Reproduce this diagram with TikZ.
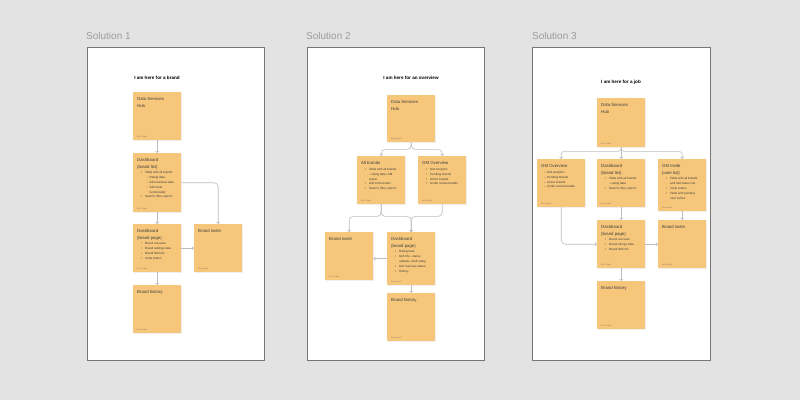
\documentclass[tikz,border=0pt]{standalone}
\usepackage{fontspec}
\setmainfont{Liberation Sans}
\usetikzlibrary{arrows.meta,shadows}
\definecolor{bgc}{HTML}{E3E3E3}
\definecolor{panelline}{HTML}{767676}
\definecolor{notec}{HTML}{F6C77B}
\definecolor{connc}{HTML}{BDBDBD}
\definecolor{soltxt}{HTML}{9B9B9B}
\definecolor{notetxt}{HTML}{3C3C3C}
\definecolor{footc}{HTML}{8C7A5C}
\tikzset{
  panel/.style={draw=panelline, fill=white, line width=0.8pt},
  notebox/.style={fill=notec, inner xsep=4pt, inner ysep=3pt, anchor=north west, text=notetxt,
    drop shadow={opacity=0.12, shadow xshift=0.3pt, shadow yshift=-0.6pt}},
  conn/.style={draw=connc, line width=0.6pt, rounded corners=4pt, -{Straight Barb[length=1.6pt,width=3.2pt]}},
  soltitle/.style={anchor=west, text=soltxt, font=\fontsize{10}{12}\selectfont, inner sep=0},
  head/.style={font=\fontsize{4.6}{5}\selectfont\bfseries, inner sep=0, text=black},
}
\newcommand\ttl[1]{{\fontsize{4.3}{6.5}\selectfont #1\par}\vspace{0.8pt}}
\newcommand\bi[1]{{\fontsize{3}{4.8}\selectfont\hspace*{4pt}\makebox[4pt][l]{\textbullet}#1\par}}
\newcommand\di[1]{{\fontsize{3}{4.8}\selectfont\hspace*{3pt}\makebox[3pt][l]{–}#1\par}}
\newcommand\sbi[1]{{\fontsize{3}{4.8}\selectfont\hspace*{10pt}\makebox[2.5pt][l]{◦}#1\par}}
\newcommand\cti[2][8pt]{{\fontsize{3}{4.8}\selectfont\hspace*{#1}#2\par}}
\newcommand\sticky[5]{\node[notebox] (#1) at (#2,#3) {\parbox[c][\dimexpr #4pt-6pt\relax][t]{40pt}{\vspace*{2.5pt}#5\par\vfill{\fontsize{2}{2.4}\selectfont\color{footc}Ben Powell\par}}};}
\begin{document}
\begin{tikzpicture}[x=1pt,y=-1pt]
\useasboundingbox (0,0) rectangle (800,400);
\fill[bgc] (0,0) rectangle (800,400);
% panels
\path[panel] (87,47) rectangle (264,360);
\path[panel] (307,47) rectangle (484,360);
\path[panel] (532.5,47) rectangle (710,360);
\node[soltitle] (s1) at (86,35.5) {Solution 1};
\node[soltitle] (s2) at (306,35.5) {Solution 2};
\node[soltitle] (s3) at (532,35.5) {Solution 3};
% ---------- Panel 1
\node[head] (h1) at (157,78) {I am here for a brand};
\sticky{hub1}{133}{92}{48}{\ttl{Data Services\\Hub}}
\sticky{dbl1}{133}{153}{59}{\ttl{Dashboard\\(brand list)}
  \bi{Table with all brands}\sbi{Rating data}\sbi{GM overview data}\sbi{GM invite}\cti[12.5pt]{functionality}\bi{Search, filter, export}}
\sticky{dbp1}{133}{224}{48}{\ttl{Dashboard\\(brand page)}
  \bi{Brand overview}\bi{Brand settings data}\bi{Brand GM info}\bi{Invite button}}
\sticky{inv1}{194}{224}{48}{\ttl{Brand invite}}
\sticky{his1}{133}{285}{48}{\ttl{Brand history}}
\draw[conn] (hub1.south) -- (dbl1.north);
\draw[conn] (dbl1.east) -| (inv1.north);
\draw[conn] (dbl1.south) -- (dbp1.north);
\draw[conn] (dbp1.east) -- (inv1.west);
\draw[conn] (dbp1.south) -- (his1.north);
% ---------- Panel 2
\node[head] (h2) at (411,78) {I am here for an overview};
\sticky{hub2}{387}{95}{47}{\ttl{Data Services\\Hub}}
\sticky{all2}{357}{156}{48}{\ttl{All brands}
  \bi{Table with all brands}\cti{– rating data, GM}\cti{status}\bi{GM invite button}\bi{Search, filter, export}}
\sticky{gmo2}{418}{156}{48}{\ttl{GM Overview}
  \bi{GM analytics}\bi{Pending brands}\bi{Active brands}\bi{Under review brands}}
\sticky{inv2}{325}{232}{48}{\ttl{Brand invite}}
\sticky{dbp2}{387}{232}{53}{\ttl{Dashboard\\(brand page)}
  \bi{Rating data}\bi{GM info - status,}\cti{updates, draft rating}\bi{GM overview status}\bi{History}}
\sticky{his2}{387}{293}{48}{\ttl{Brand history}}
\draw[conn] (hub2.south) -- ++(0,7) -| (all2.north);
\draw[conn] (hub2.south) -- ++(0,7) -| (gmo2.north);
\draw[conn] (all2.south) -- ++(0,12) -| (inv2.north);
\draw[conn] (all2.south) -- ++(0,12) -| (dbp2.north);
\draw[conn] (gmo2.south) -- ++(0,12) -| (dbp2.north);
\draw[conn] (dbp2.west) -- (dbp2.west -| inv2.east);
\draw[conn] (dbp2.south) -- (his2.north);
% ---------- Panel 3
\node[head] (h3) at (621,82) {I am here for a job};
\sticky{hub3}{597}{98}{49}{\ttl{Data Services\\Hub}}
\sticky{gmo3}{537}{159}{48}{\ttl{GM Overview}
  \di{GM analytics}\di{Pending brands}\di{Active brands}\di{Under review brands}}
\sticky{dbl3}{597}{159}{48}{\ttl{Dashboard\\(brand list)}
  \bi{Table with all brands}\cti{– rating data}\bi{Search, filter, export}}
\sticky{gmi3}{658}{159}{52}{\ttl{GM Invite\\(user list)}
  \bi{Table with all brands}\cti{and GM status info}\bi{Invite button}\bi{Table with pending}\cti{user invites}}
\sticky{dbp3}{597}{220}{48}{\ttl{Dashboard\\(brand page)}
  \bi{Brand overview}\bi{Brand ratings data}\bi{Brand GM info}}
\sticky{inv3}{658}{220}{48}{\ttl{Brand invite}}
\sticky{his3}{597}{281}{48}{\ttl{Brand history}}
\draw[conn, rounded corners=3pt] (hub3.south) -- ++(0,4) -| (gmo3.north);
\draw[conn, rounded corners=3pt] (hub3.south) -- ++(0,4) -| (gmi3.north);
\draw[conn] (hub3.south) -- (dbl3.north);
\draw[conn] (gmo3.south) |- (dbp3.west);
\draw[conn] (dbl3.south) -- (dbp3.north);
\draw[conn] (dbp3.east) -- (inv3.west);
\draw[conn] (gmi3.south) -- (inv3.north);
\draw[conn] (dbp3.south) -- (his3.north);
\end{tikzpicture}
\end{document}
